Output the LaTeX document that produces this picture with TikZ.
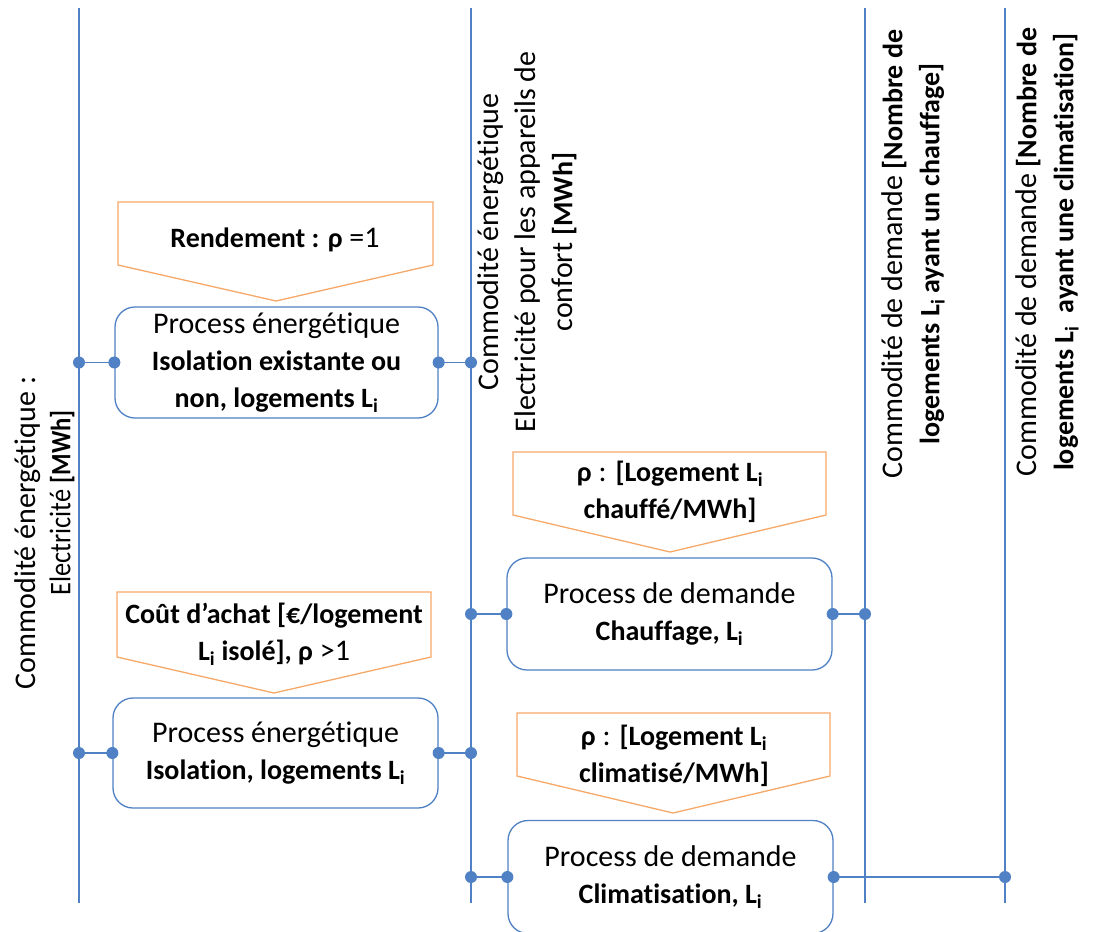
\documentclass[tikz,border=0pt]{standalone}
\usepackage{fontspec}
\setmainfont{Carlito}[Ligatures={NoCommon},RawFeature={-liga;-clig;-calt}]
\definecolor{lblue}{RGB}{79,129,196}
\definecolor{lorange}{RGB}{246,168,104}
\newcommand\bx[1]{{\fontsize{28}{37}\selectfont\bfseries #1}}
\begin{document}
\begin{tikzpicture}[x=1pt,y=-1pt,
  busline/.style={draw=lblue,line width=1.7pt},
  procbox/.style={draw=lblue,line width=1.3pt,rounded corners=20pt,fill=white,align=center,font=\fontsize{30}{37}\selectfont,inner sep=0pt},
  paramshape/.style={draw=lorange,line width=1.3pt,line join=miter},
  lbl/.style={align=center,font=\fontsize{30}{37}\selectfont,inner sep=0pt},
  dotmark/.style={fill=lblue,draw=none},
  link/.style={draw=lblue,line width=1.7pt}]
\useasboundingbox (0,0) rectangle (1094,931);
% buses
\coordinate (A1) at (79,8);   \coordinate (A2) at (79,903);
\coordinate (B1) at (471,8);  \coordinate (B2) at (471,903);
\coordinate (C1) at (865,8);  \coordinate (C2) at (865,903);
\coordinate (D1) at (1005,8); \coordinate (D2) at (1005,903);
\draw[busline] (A1) -- (A2);
\draw[busline] (B1) -- (B2);
\draw[busline] (C1) -- (C2);
\draw[busline] (D1) -- (D2);
% bus labels
\node[lbl,rotate=90] (la) at (28,533) {Commodité énergétique :};
\node[lbl,rotate=90,font=\fontsize{30}{37}\selectfont\addfontfeature{FakeStretch=0.88}] (lb) at (62,503) {Electricité {\bfseries\fontsize{28}{37}\selectfont [MWh]}};
\node[lbl,rotate=90] (lc) at (527,242) {Commodité énergétique\\Electricité pour les appareils de\\confort \bx{[MWh]}};
\node[lbl,rotate=90] (ld) at (913,254) {Commodité de demande \bx{[Nombre de}\\\bx{logements L\textsubscript{i} ayant un chauffage]}};
\node[lbl,rotate=90] (le) at (1047,252) {Commodité de demande \bx{[Nombre de}\\\bx{logements L\textsubscript{i}\ \ ayant une climatisation]}};
% parameter shapes
\draw[paramshape] (118,202) -- (433,202) -- (433,265) -- (276,301) -- (118,265) -- cycle;
\draw[paramshape] (117,592) -- (431,592) -- (431,657) -- (274,693) -- (117,657) -- cycle;
\draw[paramshape] (513,452) -- (826,452) -- (826,515) -- (670,552) -- (513,515) -- cycle;
\draw[paramshape] (517,713) -- (830,713) -- (830,776) -- (673,813) -- (517,776) -- cycle;
\node[lbl] (p1) at (275,240) {\bx{Rendement : ρ} =1};
\node[lbl] (p2) at (274,634) {\bx{Coût d’achat [€/logement}\\\bx{L\textsubscript{i} isolé], ρ} >1};
\node[lbl] (p3) at (670,492) {\bx{ρ} : \bx{[Logement L\textsubscript{i}}\\\bx{chauffé/MWh]}};
\node[lbl] (p4) at (674,756) {\bx{ρ} : \bx{[Logement L\textsubscript{i}}\\\bx{climatisé/MWh]}};
% process boxes
\node[procbox,minimum width=323pt,minimum height=111pt] (b1) at (276.5,362.5)
  {Process énergétique\\\bx{Isolation existante ou}\\\bx{non, logements L\textsubscript{i}}};
\node[procbox,minimum width=325pt,minimum height=110pt] (b2) at (275.5,753)
  {Process énergétique\\\bx{Isolation, logements L\textsubscript{i}}};
\node[procbox,minimum width=325pt,minimum height=112pt] (b3) at (669.5,614)
  {Process de demande\\\bx{Chauffage, L\textsubscript{i}}};
\node[procbox,minimum width=325pt,minimum height=113pt] (b4) at (670.5,877)
  {Process de demande\\\bx{Climatisation, L\textsubscript{i}}};
% connectors
\draw[link] (A1 |- b1.west) -- (b1.west);
\draw[link] (b1.east) -- (B1 |- b1.east);
\draw[link] (A1 |- b2.west) -- (b2.west);
\draw[link] (b2.east) -- (B1 |- b2.east);
\draw[link] (B1 |- b3.west) -- (b3.west);
\draw[link] (b3.east) -- (C1 |- b3.east);
\draw[link] (B1 |- b4.west) -- (b4.west);
\draw[link] (b4.east) -- (D1 |- b4.east);
% dots
\foreach \p in {A1 |- b1.west, b1.west, b1.east, B1 |- b1.east,
                A1 |- b2.west, b2.west, b2.east, B1 |- b2.east,
                B1 |- b3.west, b3.west, b3.east, C1 |- b3.east,
                B1 |- b4.west, b4.west, b4.east, D1 |- b4.east}
  \fill[dotmark] (\p) circle (6pt);
\end{tikzpicture}
\end{document}
